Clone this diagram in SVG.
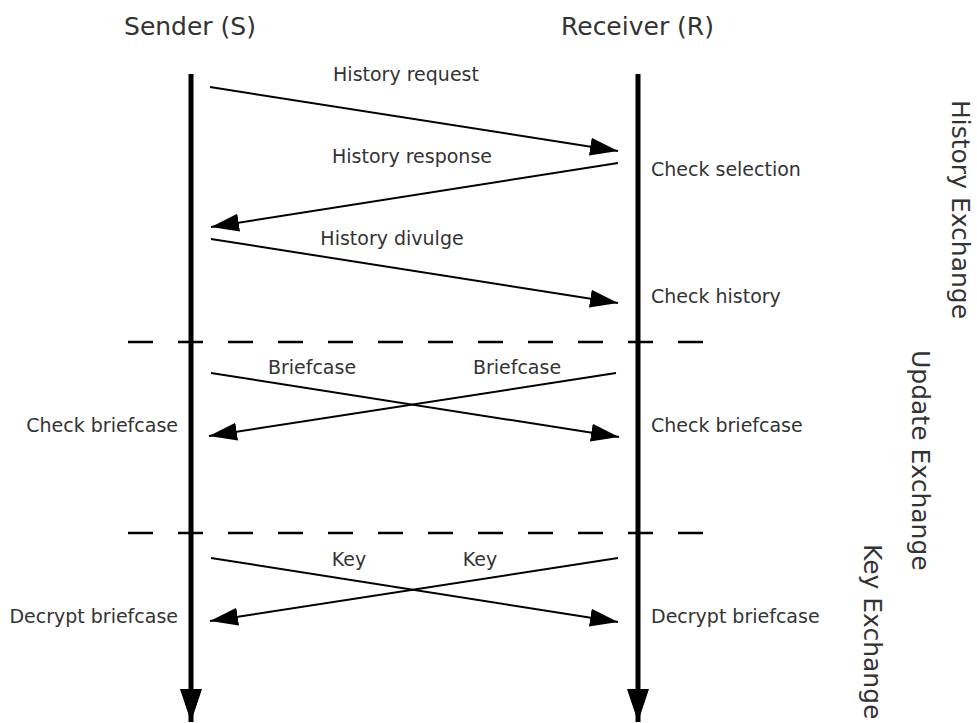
<svg xmlns="http://www.w3.org/2000/svg" width="977" height="723" viewBox="0 0 977 723">
<style>
text{font-family:"DejaVu Sans","Liberation Sans",sans-serif;fill:#333}
.t{font-size:25px;text-anchor:middle}
.m{font-size:19px}
.c{text-anchor:middle}
.e{text-anchor:end}
.v{font-size:25px}
.life{stroke:#000;stroke-width:5;fill:none}
.msg{stroke:#000;stroke-width:2;fill:none}
.sep{stroke:#000;stroke-width:2.5;stroke-dasharray:25 25;fill:none}
</style>
<defs>
<marker id="ah" markerUnits="userSpaceOnUse" markerWidth="28" markerHeight="18" refX="28" refY="9" orient="auto"><path d="M0,0 L28,9 L0,18 z" fill="#000"/></marker>
<marker id="lh" markerUnits="userSpaceOnUse" markerWidth="33" markerHeight="22" refX="33" refY="11" orient="auto"><path d="M0,0 L33,11 L0,22 z" fill="#000"/></marker>
</defs>
<g id="sender">
<text class="t" x="190" y="35">Sender (S)</text>
<line class="life" x1="191" y1="74" x2="191" y2="722" marker-end="url(#lh)"/>
</g>
<g id="receiver">
<text class="t" x="637.5" y="35">Receiver (R)</text>
<line class="life" x1="638" y1="74" x2="638" y2="722" marker-end="url(#lh)"/>
</g>
<g id="separators">
<line class="sep" x1="128" y1="342" x2="705" y2="342"/>
<line class="sep" x1="128" y1="533" x2="705" y2="533"/>
</g>
<g id="connectors">
<line class="msg" x1="210" y1="87" x2="618" y2="151" marker-end="url(#ah)"/>
<line class="msg" x1="618" y1="163" x2="211" y2="227" marker-end="url(#ah)"/>
<line class="msg" x1="211" y1="239" x2="618" y2="303" marker-end="url(#ah)"/>
<line class="msg" x1="211" y1="373" x2="619" y2="437" marker-end="url(#ah)"/>
<line class="msg" x1="616" y1="373" x2="209" y2="436" marker-end="url(#ah)"/>
<line class="msg" x1="211" y1="558" x2="618" y2="622" marker-end="url(#ah)"/>
<line class="msg" x1="618" y1="558" x2="210" y2="621" marker-end="url(#ah)"/>
</g>
<g id="labels">
<text class="m c" x="406" y="81">History request</text>
<text class="m c" x="412" y="163">History response</text>
<text class="m c" x="392" y="245">History divulge</text>
<text class="m" x="651" y="176">Check selection</text>
<text class="m" x="651" y="303">Check history</text>
<text class="m c" x="312" y="374">Briefcase</text>
<text class="m c" x="517" y="374">Briefcase</text>
<text class="m e" x="178" y="432">Check briefcase</text>
<text class="m" x="651" y="432">Check briefcase</text>
<text class="m c" x="349" y="566">Key</text>
<text class="m c" x="480" y="566">Key</text>
<text class="m e" x="178" y="623">Decrypt briefcase</text>
<text class="m" x="651" y="623">Decrypt briefcase</text>
</g>
<g id="phases">
<text class="v" transform="translate(952,100) rotate(90)">History Exchange</text>
<text class="v" transform="translate(912,350) rotate(90)">Update Exchange</text>
<text class="v" transform="translate(864,544) rotate(90)">Key Exchange</text>
</g>
</svg>
